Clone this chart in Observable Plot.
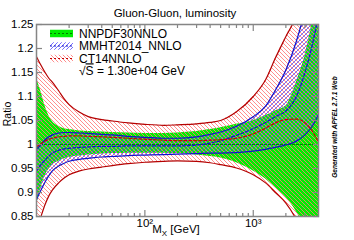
<!DOCTYPE html>
<html><head><meta charset="utf-8">
<script src="https://cdn.jsdelivr.net/npm/d3@7"></script>
<script src="https://cdn.jsdelivr.net/npm/@observablehq/plot@0.6"></script>
<style>
html,body{margin:0;padding:0;background:#fff;}
#chart svg{display:block;}
</style>
</head><body>
<svg width="0" height="0" style="position:absolute">
<defs>
<pattern id="hatchRed" patternUnits="userSpaceOnUse" width="4" height="4">
<path d="M-1,-1 L5,5 M3,-1 L5,1 M-1,3 L1,5" stroke="#ff7a7a" stroke-width="0.85"/>
</pattern>
<pattern id="hatchBlue" patternUnits="userSpaceOnUse" width="4" height="4">
<path d="M-1,5 L5,-1 M-1,1 L1,-1 M3,5 L5,3" stroke="#5a50ff" stroke-width="0.85"/>
</pattern>
</defs>
</svg>
<div id="chart"></div>
<script>
// ---- data ----
const mass       = [10, 11, 12, 13, 14, 16, 18, 20, 25, 30, 40, 50, 70, 100, 150, 200, 300, 400, 500, 700, 1000, 1300, 1600, 2000, 2500, 3000, 3500, 4000];
const nnpdfLow   = [0.875,0.91,0.935,0.948,0.957,0.965,0.97,0.973,0.976,0.978,0.98,0.981,0.982,0.982,0.982,0.981,0.978,0.975,0.972,0.962,0.945,0.928,0.91,0.89,0.86,0.825,0.79,0.75];
const nnpdfCen   = [1,1,1,1,1,1,1,1,1,1,1,1,1,1,1,1,1,1,1,1,1,1,1,1,1,1,1,1];
const nnpdfHigh  = [1.138,1.11,1.08,1.06,1.048,1.038,1.033,1.031,1.028,1.027,1.026,1.025,1.024,1.023,1.023,1.024,1.027,1.031,1.035,1.042,1.05,1.06,1.07,1.08,1.13,1.185,1.255,1.33];
const mmhtLow    = [0.885,0.905,0.922,0.935,0.945,0.955,0.961,0.965,0.969,0.971,0.974,0.975,0.977,0.978,0.979,0.98,0.981,0.982,0.982,0.983,0.986,0.99,0.994,0.999,1.007,1.02,1.038,1.062];
const mmhtCen    = [0.945,0.958,0.968,0.976,0.982,0.988,0.991,0.992,0.994,0.995,0.996,0.996,0.997,0.997,0.997,0.997,0.999,1.003,1.008,1.019,1.033,1.046,1.058,1.07,1.1,1.15,1.207,1.27];
const mmhtHigh   = [0.99,1.0,1.01,1.016,1.02,1.024,1.025,1.025,1.024,1.023,1.021,1.02,1.017,1.015,1.013,1.013,1.016,1.021,1.026,1.038,1.058,1.08,1.113,1.155,1.215,1.28,1.35,1.42];
const ctLow      = [0.82,0.85,0.875,0.893,0.905,0.92,0.93,0.937,0.945,0.949,0.953,0.956,0.96,0.963,0.965,0.966,0.965,0.962,0.958,0.951,0.937,0.92,0.9,0.878,0.843,0.8,0.76,0.72];
const ctCen      = [0.995,1.002,1.007,1.011,1.013,1.016,1.017,1.018,1.018,1.017,1.016,1.015,1.013,1.011,1.009,1.008,1.008,1.009,1.01,1.013,1.022,1.034,1.045,1.052,1.053,1.045,1.028,1.005];
const ctHigh     = [1.183,1.165,1.15,1.138,1.13,1.112,1.095,1.083,1.067,1.058,1.052,1.049,1.045,1.042,1.04,1.041,1.043,1.046,1.05,1.068,1.1,1.135,1.18,1.225,1.27,1.34,1.41,1.48];

const seriesLabels = ["NNPDF30NNLO", "MMHT2014_NNLO", "CT14NNLO"];
const energyLabel = "1.30e+04 GeV";
const yTicks = [0.85, 0.9, 0.95, 1, 1.05, 1.1, 1.15, 1.2, 1.25];
const xMajor = [100, 1000];
const xMinor = [20,30,40,50,60,70,80,90,200,300,400,500,600,700,800,900,2000,3000];
const titleText = "Gluon-Gluon, luminosity";
const yLabel = "Ratio";
const footer = "Generated with APFEL 2.7.1 Web";

const rows = mass.map((m, i) => ({
  m, nnLo: nnpdfLow[i], nnC: nnpdfCen[i], nnHi: nnpdfHigh[i],
  mmLo: mmhtLow[i], mmC: mmhtCen[i], mmHi: mmhtHigh[i],
  ctLo: ctLow[i], ctC: ctCen[i], ctHi: ctHigh[i]
}));

const font = "'Liberation Sans', Arial, Helvetica, sans-serif";
const gray = "#858585";
const green = "#00ee00", greenLine = "#007a00";
const blue = "#1010c8", red = "#b40000", redDash = "#c80000";
const swatches = [
  {fill: green, line: greenLine},
  {fill: "url(#hatchBlue)", line: blue},
  {fill: "url(#hatchRed)", line: redDash}
];

function annotations(index, scales, values, dims) {
  const L = dims.marginLeft, T = dims.marginTop;
  const R = dims.width - dims.marginRight, B = dims.height - dims.marginBottom;
  const g = d3.create("svg:g").attr("font-family", font).attr("fill", "#000");
  g.append("text").attr("x", (L + R) / 2 - 2).attr("y", T - 7)
    .attr("text-anchor", "middle").attr("font-size", 11.5).text(titleText);
  g.append("text").attr("transform", `translate(${L - 25},${T + 90}) rotate(-90)`)
    .attr("text-anchor", "middle").attr("font-size", 10.5).text(yLabel);
  const xl = g.append("text").attr("x", (L + R) / 2 - 1).attr("y", B + 17)
    .attr("text-anchor", "middle").attr("font-size", 11.5);
  xl.append("tspan").text("M");
  xl.append("tspan").attr("font-size", 8).attr("dy", 3).text("X");
  xl.append("tspan").attr("dy", -3).text(" [GeV]");
  g.append("text").attr("transform", `translate(${R + 19},${T + 103}) rotate(-90)`)
    .attr("text-anchor", "middle").attr("font-size", 6.5).attr("font-weight", "bold")
    .attr("font-style", "italic").text(footer);
  // legend
  const bx = L + 14, bw = 23, bh = 7.5, tx = L + 43, step = 12.5, y0 = T + 9.5;
  seriesLabels.forEach((lab, i) => {
    const cy = y0 + i * step;
    g.append("rect").attr("x", bx).attr("y", cy - bh / 2).attr("width", bw).attr("height", bh)
      .attr("fill", swatches[i].fill);
    g.append("line").attr("x1", bx).attr("x2", bx + bw).attr("y1", cy).attr("y2", cy)
      .attr("stroke", swatches[i].line).attr("stroke-width", 1.2).attr("stroke-dasharray", "2,2");
    g.append("text").attr("x", tx).attr("y", cy + 4.3).attr("font-size", 12)
      .attr("text-anchor", "start").text(lab);
  });
  const et = g.append("text").attr("x", tx).attr("y", y0 + 3 * step + 4.3).attr("font-size", 12)
    .attr("text-anchor", "start");
  et.append("tspan").text("√");
  et.append("tspan").attr("text-decoration", "overline").text("S");
  et.append("tspan").text(" = " + energyLabel);
  return g.node();
}

const chart = Plot.plot({
  width: 354, height: 240,
  marginLeft: 36, marginRight: 36, marginTop: 24, marginBottom: 24,
  style: {fontFamily: font, background: "#fff"},
  x: {type: "log", domain: [10, 4000], label: null},
  y: {domain: [0.85, 1.25], label: null},
  marks: [
    Plot.areaY(rows, {x: "m", y1: "nnLo", y2: "nnHi", fill: green, curve: "monotone-x", clip: true}),
    Plot.areaY(rows, {x: "m", y1: "mmLo", y2: "mmHi", fill: "url(#hatchBlue)", curve: "monotone-x", clip: true}),
    Plot.areaY(rows, {x: "m", y1: "ctLo", y2: "ctHi", fill: "url(#hatchRed)", curve: "monotone-x", clip: true}),
    Plot.lineY(rows, {x: "m", y: "nnC", stroke: greenLine, strokeWidth: 1.2, strokeDasharray: "2,2", clip: true}),
    Plot.lineY(rows, {x: "m", y: "mmLo", stroke: blue, strokeWidth: 1.2, curve: "monotone-x", clip: true}),
    Plot.lineY(rows, {x: "m", y: "mmHi", stroke: blue, strokeWidth: 1.2, curve: "monotone-x", clip: true}),
    Plot.lineY(rows, {x: "m", y: "mmC", stroke: blue, strokeWidth: 1.2, strokeDasharray: "3,2", curve: "monotone-x", clip: true}),
    Plot.lineY(rows, {x: "m", y: "ctLo", stroke: red, strokeWidth: 1.2, curve: "monotone-x", clip: true}),
    Plot.lineY(rows, {x: "m", y: "ctHi", stroke: red, strokeWidth: 1.2, curve: "monotone-x", clip: true}),
    Plot.lineY(rows, {x: "m", y: "ctC", stroke: redDash, strokeWidth: 1.2, strokeDasharray: "3,2", curve: "monotone-x", clip: true}),
    Plot.frame({stroke: gray, strokeWidth: 1.5}),
    Plot.axisY(yTicks, {anchor: "left", label: null, tickSize: -6, tickFormat: () => "", stroke: gray, strokeWidth: 1.2}),
    Plot.axisY(yTicks, {anchor: "right", label: null, tickSize: -6, tickFormat: () => "", stroke: gray, strokeWidth: 1.2}),
    Plot.axisY(yTicks, {anchor: "left", label: null, tickSize: 0, tickPadding: 3, fontSize: 11.5, fill: "#000",
      tickFormat: d => String(+d.toFixed(2))}),
    Plot.axisX(xMajor, {anchor: "bottom", label: null, tickSize: -6, tickFormat: () => "", stroke: gray, strokeWidth: 1.2}),
    Plot.axisX(xMinor, {anchor: "bottom", label: null, tickSize: -3, tickFormat: () => "", stroke: gray, strokeWidth: 1.2}),
    Plot.axisX(xMajor, {anchor: "top", label: null, tickSize: -6, tickFormat: () => "", stroke: gray, strokeWidth: 1.2}),
    Plot.axisX(xMinor, {anchor: "top", label: null, tickSize: -3, tickFormat: () => "", stroke: gray, strokeWidth: 1.2}),
    Plot.axisX(xMajor, {anchor: "bottom", label: null, tickSize: 0, tickPadding: 2, fontSize: 11.5, fill: "#000",
      tickFormat: d => d === 100 ? "10²" : "10³"}),
    annotations
  ]
});
document.getElementById("chart").appendChild(chart);
</script>
</body></html>
